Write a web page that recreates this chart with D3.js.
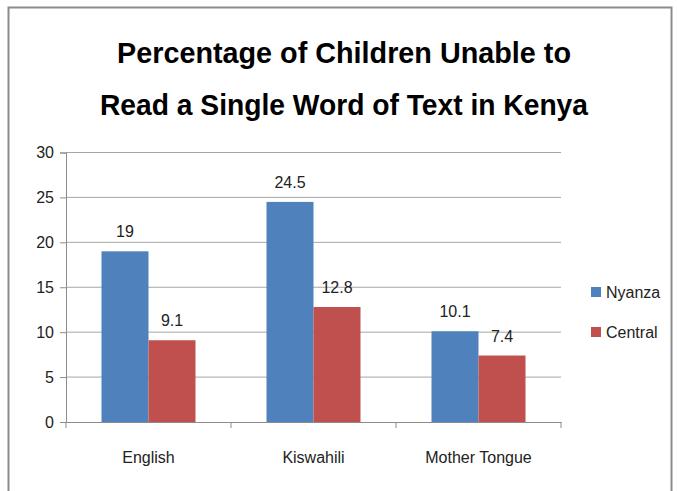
<!DOCTYPE html>
<html><head><meta charset="utf-8">
<script src="https://cdn.jsdelivr.net/npm/d3@7"></script>
<style>
body{margin:0;background:#fff;}
text{font-family:"Liberation Sans",Arial,sans-serif;}
</style></head>
<body>
<svg id="c" width="677" height="491"></svg>
<script>
const categories = ["English", "Kiswahili", "Mother Tongue"];
const seriesNames = ["Nyanza", "Central"];
const nyanza = [19, 24.5, 10.1];
const central = [9.1, 12.8, 7.4];
const yTicks = [0, 5, 10, 15, 20, 25, 30];
const colors = ["#4F81BD", "#C0504D"];
const titleLines = ["Percentage of Children Unable to", "Read a Single Word of Text in Kenya"];

const FONT = '"Liberation Sans",Arial,sans-serif';
const svg = d3.select("#c");
svg.append("rect").attr("x", 8.5).attr("y", 7.5).attr("width", 663).attr("height", 490)
  .attr("fill", "#fff").attr("stroke", "#8c8c8c").attr("stroke-width", 2);

const x0 = d3.scaleBand().domain(categories).range([66, 561]).paddingInner(0).paddingOuter(0);
const y = d3.scaleLinear().domain([0, 30]).range([422, 152.5]);
const x1 = d3.scaleBand().domain(seriesNames).range([0, 94]);

// gridlines
svg.append("g").selectAll("line").data(yTicks.slice(1)).join("line")
  .attr("x1", 66).attr("x2", 561).attr("y1", d => y(d)).attr("y2", d => y(d))
  .attr("stroke", "#a6a6a6").attr("stroke-width", 1);

// y axis
const yAxis = svg.append("g").attr("transform", "translate(66,0)")
  .call(d3.axisLeft(y).tickValues(yTicks).tickSize(6).tickPadding(6));
yAxis.select(".domain").attr("stroke", "#8c8c8c");
yAxis.selectAll(".tick line").attr("stroke", "#8c8c8c");
yAxis.selectAll("text").attr("font-size", 16).attr("fill", "#222").style("font-family", FONT);

// bars
const data = categories.map((c, i) => ({c, vals: [nyanza[i], central[i]]}));
const groups = svg.append("g").selectAll("g").data(data).join("g")
  .attr("transform", d => `translate(${x0(d.c) + (x0.bandwidth() - 94) / 2},0)`);
groups.selectAll("rect").data(d => d.vals.map((v, j) => ({v, s: seriesNames[j], j}))).join("rect")
  .attr("x", d => x1(d.s)).attr("width", x1.bandwidth())
  .attr("y", d => y(d.v)).attr("height", d => y(0) - y(d.v))
  .attr("fill", d => colors[d.j]);
groups.selectAll("text").data(d => d.vals.map((v, j) => ({v, s: seriesNames[j]}))).join("text")
  .attr("x", d => x1(d.s) + x1.bandwidth() / 2).attr("y", d => y(d.v) - 14)
  .attr("text-anchor", "middle").attr("font-size", 16).attr("fill", "#222")
  .text(d => d.v);

// x axis
const xAxis = svg.append("g").attr("transform", "translate(0,422)")
  .call(d3.axisBottom(x0).tickSize(0).tickPadding(30));
xAxis.select(".domain").attr("stroke", "#8c8c8c");
xAxis.selectAll("text").attr("font-size", 16).attr("fill", "#222").style("font-family", FONT);
svg.append("g").selectAll("line").data([66, ...categories.map(c => x0(c) + x0.bandwidth())]).join("line")
  .attr("x1", d => d).attr("x2", d => d).attr("y1", 422).attr("y2", 428)
  .attr("stroke", "#8c8c8c");

// legend
const leg = svg.append("g").selectAll("g").data(seriesNames).join("g")
  .attr("transform", (d, i) => `translate(591,${292 + i * 40})`);
leg.append("rect").attr("x", 0).attr("y", -5).attr("width", 10).attr("height", 10)
  .attr("fill", (d, i) => colors[i]);
leg.append("text").attr("x", 15).attr("y", 6).attr("font-size", 16).attr("fill", "#222").text(d => d);

// title
const titleWidths = [454, 488];
svg.append("g").selectAll("text").data(titleLines).join("text")
  .attr("x", 344).attr("y", (d, i) => 63 + i * 52)
  .attr("text-anchor", "middle").attr("font-size", 30).attr("font-weight", "bold").attr("fill", "#000")
  .attr("textLength", (d, i) => titleWidths[i]).attr("lengthAdjust", "spacingAndGlyphs")
  .text(d => d);
</script>
</body></html>
